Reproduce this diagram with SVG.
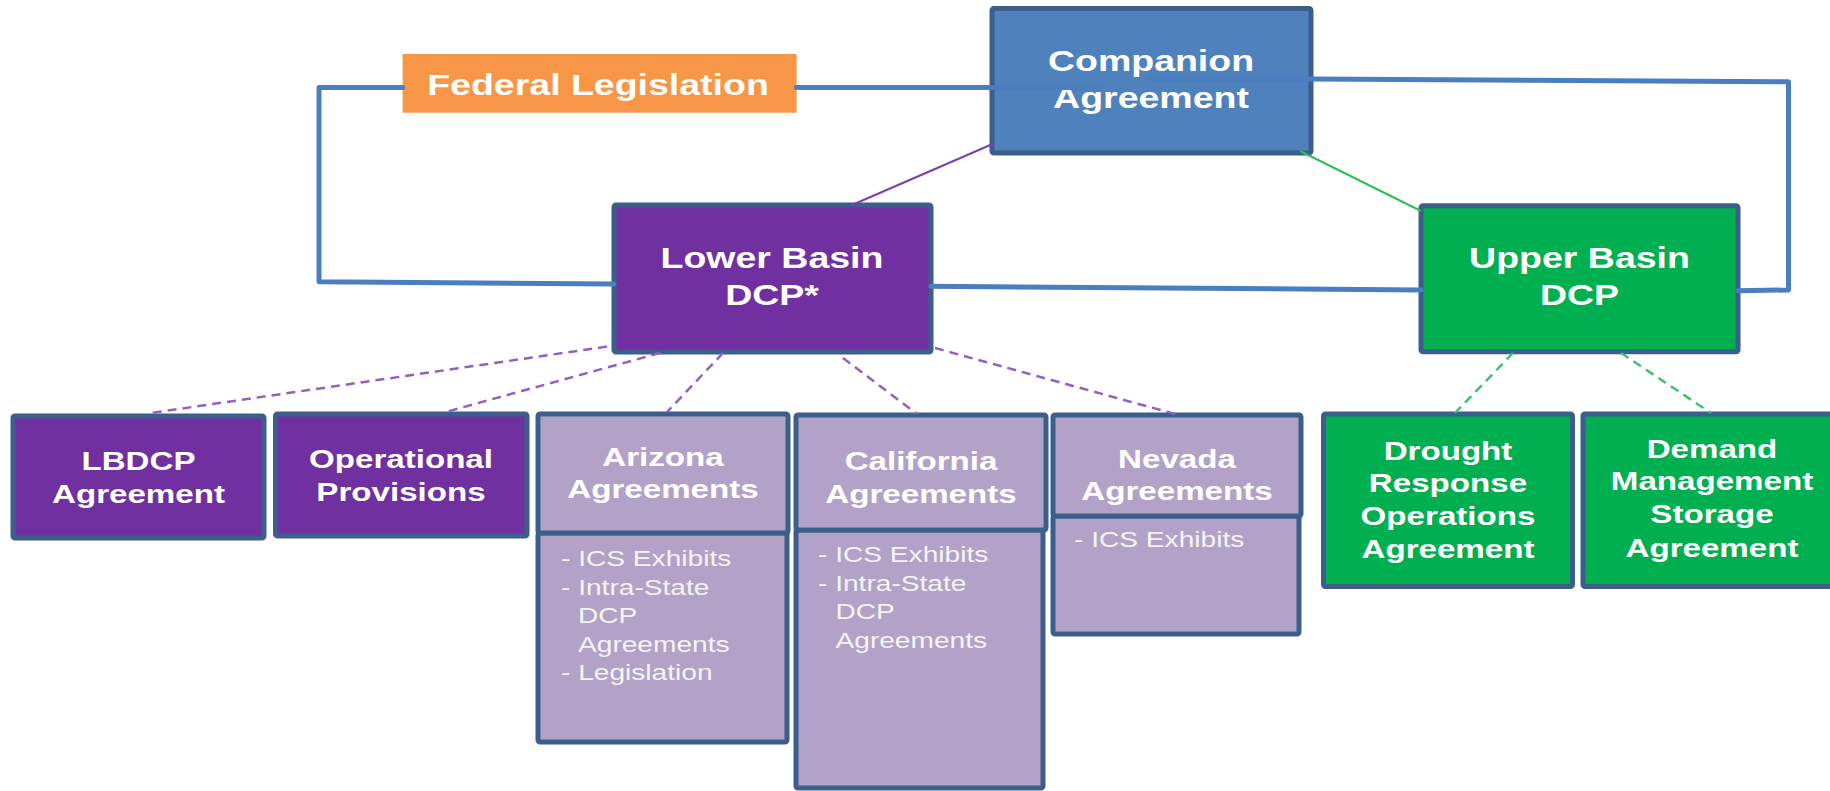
<svg xmlns="http://www.w3.org/2000/svg" width="1830" height="791" viewBox="0 0 1830 791">
<style>
.box{stroke:#3b5e8c;stroke-width:5;stroke-linejoin:round}
.blue{fill:#4f81bd}
.purple{fill:#7030a0}
.green{fill:#00b050}
.lilac{fill:#b3a2c7}
.orange{fill:#f79646}
.t{font-family:"Liberation Sans",Arial,sans-serif;font-weight:bold;fill:#ffffff;text-anchor:middle}
.big{font-size:30px}
.mid{font-size:26.5px}
.body{font-family:"Liberation Sans",Arial,sans-serif;font-size:22.5px;fill:#f4f4f4}
.thick{fill:none;stroke:#4a7ebf;stroke-width:5;stroke-linejoin:round;stroke-linecap:round}
.pl{fill:none;stroke:#7a3fb0;stroke-width:2}
.gl{fill:none;stroke:#2ebd5b;stroke-width:2}
.pd{fill:none;stroke:#9160c4;stroke-width:2.5;stroke-dasharray:9 6}
.gd{fill:none;stroke:#3cc46a;stroke-width:2.5;stroke-dasharray:9 6}
</style>
<rect width="1830" height="791" fill="#ffffff"/>
<g id="companion-agreement">
<rect class="box blue" x="992" y="8.5" width="319" height="144.5" rx="2"/>
<text class="t big" transform="translate(1151,71) scale(1.25,1)">Companion</text>
<text class="t big" transform="translate(1151,108) scale(1.25,1)">Agreement</text>
</g>
<g id="federal-legislation">
<rect class="orange" x="402.6" y="54" width="394" height="58.7"/>
<text class="t big" transform="translate(598,95) scale(1.25,1)">Federal Legislation</text>
</g>
<g id="lower-basin-dcp">
<rect class="box purple" x="614" y="205" width="317" height="147" rx="2"/>
<text class="t big" transform="translate(772,268) scale(1.25,1)">Lower Basin</text>
<text class="t big" transform="translate(772,305) scale(1.25,1)">DCP*</text>
</g>
<g id="upper-basin-dcp">
<rect class="box green" x="1421" y="205.7" width="317" height="146" rx="2"/>
<text class="t big" transform="translate(1579.5,268) scale(1.25,1)">Upper Basin</text>
<text class="t big" transform="translate(1579.5,305) scale(1.25,1)">DCP</text>
</g>
<g id="lbdcp-agreement">
<rect class="box purple" x="13" y="416" width="251" height="122" rx="2"/>
<text class="t mid" transform="translate(138.5,470) scale(1.25,1)">LBDCP</text>
<text class="t mid" transform="translate(138.5,503) scale(1.25,1)">Agreement</text>
</g>
<g id="operational-provisions">
<rect class="box purple" x="275.5" y="414" width="251.5" height="122" rx="2"/>
<text class="t mid" transform="translate(401,468) scale(1.25,1)">Operational</text>
<text class="t mid" transform="translate(401,501) scale(1.25,1)">Provisions</text>
</g>
<g id="arizona-agreements">
<rect class="box lilac" x="538" y="533" width="249" height="209" rx="2"/>
<rect class="box lilac" x="538" y="414" width="250" height="119" rx="2"/>
<text class="t mid" transform="translate(663,466) scale(1.25,1)">Arizona</text>
<text class="t mid" transform="translate(663,498) scale(1.25,1)">Agreements</text>
<text class="body" transform="translate(561,566) scale(1.25,1)">- ICS Exhibits</text>
<text class="body" transform="translate(561,594.5) scale(1.25,1)">- Intra-State</text>
<text class="body" transform="translate(578,623) scale(1.25,1)">DCP</text>
<text class="body" transform="translate(578,651.5) scale(1.25,1)">Agreements</text>
<text class="body" transform="translate(561,680) scale(1.25,1)">- Legislation</text>
</g>
<g id="california-agreements">
<rect class="box lilac" x="796" y="530" width="247" height="258" rx="2"/>
<rect class="box lilac" x="796" y="415" width="250" height="115" rx="2"/>
<text class="t mid" transform="translate(921,470) scale(1.25,1)">California</text>
<text class="t mid" transform="translate(921,503) scale(1.25,1)">Agreements</text>
<text class="body" transform="translate(818,562) scale(1.25,1)">- ICS Exhibits</text>
<text class="body" transform="translate(818,590.5) scale(1.25,1)">- Intra-State</text>
<text class="body" transform="translate(835.5,619) scale(1.25,1)">DCP</text>
<text class="body" transform="translate(835.5,647.5) scale(1.25,1)">Agreements</text>
</g>
<g id="nevada-agreements">
<rect class="box lilac" x="1053" y="516" width="246" height="118" rx="2"/>
<rect class="box lilac" x="1053" y="415" width="248" height="101" rx="2"/>
<text class="t mid" transform="translate(1177,468) scale(1.25,1)">Nevada</text>
<text class="t mid" transform="translate(1177,500) scale(1.25,1)">Agreements</text>
<text class="body" transform="translate(1074,546.7) scale(1.25,1)">- ICS Exhibits</text>
</g>
<g id="drought-response-operations-agreement">
<rect class="box green" x="1323.5" y="414" width="249" height="172.5" rx="2"/>
<text class="t mid" transform="translate(1448,460) scale(1.25,1)">Drought</text>
<text class="t mid" transform="translate(1448,492) scale(1.25,1)">Response</text>
<text class="t mid" transform="translate(1448,525) scale(1.25,1)">Operations</text>
<text class="t mid" transform="translate(1448,558) scale(1.25,1)">Agreement</text>
</g>
<g id="demand-management-storage-agreement">
<rect class="box green" x="1583" y="414" width="270" height="172.5" rx="2"/>
<text class="t mid" transform="translate(1712,458) scale(1.25,1)">Demand</text>
<text class="t mid" transform="translate(1712,490) scale(1.25,1)">Management</text>
<text class="t mid" transform="translate(1712,523) scale(1.25,1)">Storage</text>
<text class="t mid" transform="translate(1712,557) scale(1.25,1)">Agreement</text>
</g>
<g id="connectors">
<path class="thick" d="M402.6,87.5 H319 V281.7 L614,284"/>
<path class="thick" d="M796.5,87.5 L1100,87.5"/>
<path class="thick" d="M1150,79 L1311,79 L1788.5,81.7 V290 L1738,290.7"/>
<path class="thick" d="M931,286.3 L1421,290"/>
<path class="pl" d="M992.6,144 L852,205"/>
<path class="gl" d="M1300,151 L1421,211"/>
<path class="pd" d="M607,346.6 L149,413.3"/>
<path class="pd" d="M660,353 L443,412.7"/>
<path class="pd" d="M723,353 L667,412"/>
<path class="pd" d="M843,358 L917,414"/>
<path class="pd" d="M935,348 L1175,414"/>
<path class="gd" d="M1513,353 L1455,413"/>
<path class="gd" d="M1621,353 L1711,413"/>
</g>
</svg>
